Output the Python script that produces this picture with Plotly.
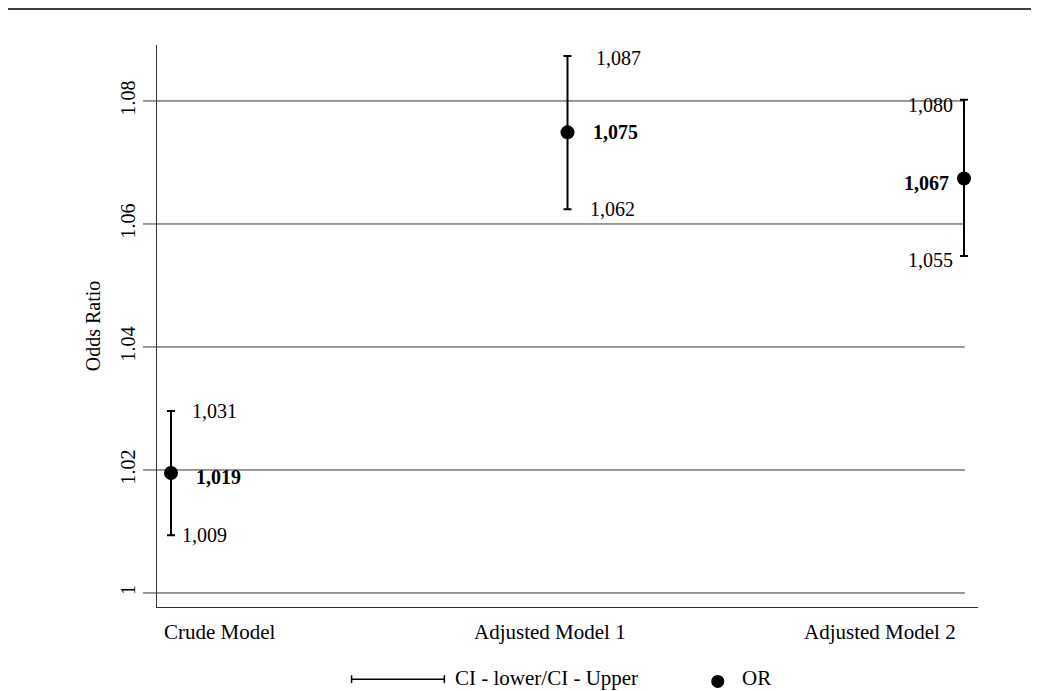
import plotly.graph_objects as go

# ---- data ----
models = ["Crude Model", "Adjusted Model 1", "Adjusted Model 2"]
odds_ratio = [1.0195, 1.0749, 1.0674]
ci_lower = [1.0094, 1.0624, 1.0548]
ci_upper = [1.0296, 1.0873, 1.0802]
or_labels = ["1,019", "1,075", "1,067"]
lower_labels = ["1,009", "1,062", "1,055"]
upper_labels = ["1,031", "1,087", "1,080"]
y_ticks = [1.0, 1.02, 1.04, 1.06, 1.08]
y_tick_text = ["1", "1.02", "1.04", "1.06", "1.08"]

FONT = "Liberation Serif"
FS = 20
FS_CAT = 21
AX = "#333333"

x_pos = list(range(len(models)))

fig = go.Figure()
fig.add_trace(go.Scatter(
    x=x_pos, y=odds_ratio, mode="markers",
    marker=dict(size=14, color="black", symbol="circle"),
    error_y=dict(type="data", symmetric=False,
                 array=[u - o for u, o in zip(ci_upper, odds_ratio)],
                 arrayminus=[o - l for o, l in zip(odds_ratio, ci_lower)],
                 color="black", thickness=2, width=4),
    showlegend=False, hoverinfo="skip",
))

shapes = []
annotations = []

# gridlines (drawn as shapes so they extend past the axis on the left)
for t in y_ticks:
    shapes.append(dict(type="line", xref="paper", yref="y", x0=-0.017, x1=0.984,
                       y0=t, y1=t, line=dict(color=AX, width=1), layer="below"))

# top rule
shapes.append(dict(type="line", xref="paper", yref="paper", x0=-0.2, x1=1.1,
                   y0=1.064, y1=1.064, line=dict(color="black", width=1.5)))

# value labels
side = ["right", "right", "left"]
dx_hi = [19, 26, -9]
dx_or = [23, 23, -13]
dx_lo = [9, 20, -9]
dy_hi = [0, -2, -5]
dy_or = [-4, 0, -5]
dy_lo = [0, 0, -4]
for i in x_pos:
    anchor = "left" if side[i] == "right" else "right"
    for val, txt, dx, dy in ((ci_upper[i], upper_labels[i], dx_hi[i], dy_hi[i]),
                             (odds_ratio[i], "<b>" + or_labels[i] + "</b>", dx_or[i], dy_or[i]),
                             (ci_lower[i], lower_labels[i], dx_lo[i], dy_lo[i])):
        annotations.append(dict(x=i, y=val, xref="x", yref="y", text=txt, showarrow=False,
                                xanchor=anchor, yanchor="middle", xshift=dx, yshift=dy,
                                font=dict(family=FONT, size=FS, color="black")))

# category labels
cat_x = [0.0767, 0.4787, 0.8806]
for cx, name in zip(cat_x, models):
    annotations.append(dict(x=cx, y=-0.045, xref="paper", yref="paper", text=name,
                            showarrow=False, xanchor="center", yanchor="middle",
                            font=dict(family=FONT, size=FS_CAT, color="black")))

# custom legend
ly = -0.1285
shapes.append(dict(type="line", xref="paper", yref="paper", x0=0.237, x1=0.350,
                   y0=ly, y1=ly, line=dict(color="black", width=1.5)))
for lx in (0.237, 0.350):
    shapes.append(dict(type="line", xref="paper", yref="paper", x0=lx, x1=lx,
                       y0=ly - 0.007, y1=ly + 0.007, line=dict(color="black", width=1.5)))
annotations.append(dict(x=0.360, y=ly + 0.002, xref="paper", yref="paper",
                        text="CI - lower/CI - Upper", showarrow=False,
                        xanchor="left", yanchor="middle",
                        font=dict(family=FONT, size=FS_CAT, color="black")))
shapes.append(dict(type="circle", xref="paper", yref="paper", xsizemode="pixel",
                   ysizemode="pixel", xanchor=0.683, yanchor=ly - 0.004,
                   x0=-6.5, x1=6.5, y0=-6.5, y1=6.5,
                   fillcolor="black", line=dict(color="black", width=0)))
annotations.append(dict(x=0.710, y=ly + 0.002, xref="paper", yref="paper",
                        text="OR", showarrow=False, xanchor="left", yanchor="middle",
                        font=dict(family=FONT, size=FS_CAT, color="black")))

fig.update_layout(
    width=1031, height=683,
    margin=dict(l=149, r=61, t=37, b=84),
    paper_bgcolor="white", plot_bgcolor="white",
    font=dict(family=FONT, size=FS, color="black"),
    xaxis=dict(range=[-0.0353, 2.0353], showgrid=False, zeroline=False,
               showline=True, linecolor=AX, linewidth=1, showticklabels=False,
               ticks=""),
    yaxis=dict(range=[0.99772, 1.0891], showgrid=False, zeroline=False,
               showline=True, linecolor=AX, linewidth=1,
               tickvals=y_ticks, ticktext=y_tick_text, tickangle=-90,
               ticks="", ticklabelstandoff=13,
               tickfont=dict(family=FONT, size=FS, color="black"),
               title=dict(text="Odds Ratio", standoff=11,
                          font=dict(family=FONT, size=FS, color="black"))),
    shapes=shapes, annotations=annotations,
)

fig.write_html("out.html")
